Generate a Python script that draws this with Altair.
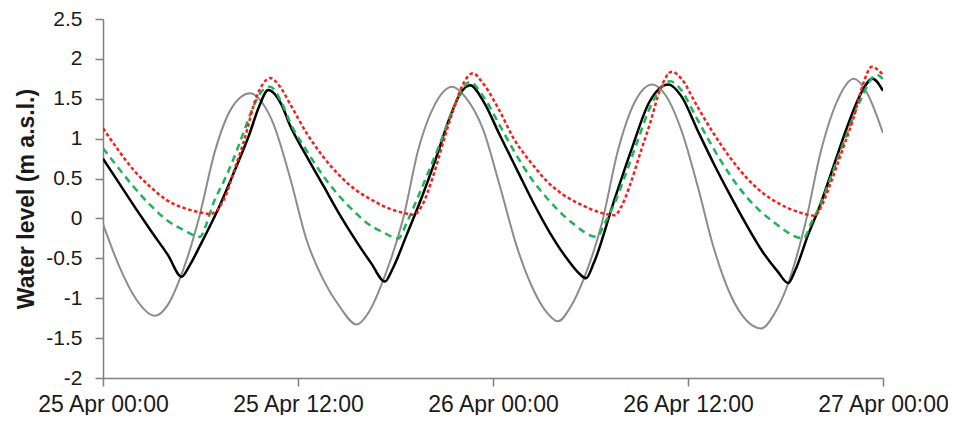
import altair as alt
import pandas as pd

# hours since 25 Apr 00:00
grey_h = [0, 1, 2, 3.2, 4, 4.8, 5.9, 6.9, 7.9, 9.05, 9.8, 10.48, 11.5, 12.53, 13.56, 14.58, 15.6,
          16.4, 17.25, 18.5, 19.4, 20.4, 21.5, 22.3, 23.4, 24.43, 25.46, 26.5, 27.2, 28.0,
          28.8, 29.56, 30.7, 31.7, 32.7, 33.8, 34.6, 35.6, 36.6, 37.6, 38.6, 39.6, 40.5,
          41.3, 42.1, 43.2, 44.2, 45.2, 46.2, 47.0, 48.0]
grey_v = [-0.07, -0.60, -1.00, -1.22, -1.08, -0.72, 0.00, 0.85, 1.38, 1.57, 1.45, 1.19, 0.52, -0.27, -0.77, -1.11, -1.33,
          -1.16, -0.77, 0.02, 0.86, 1.42, 1.65, 1.52, 1.11, 0.40, -0.35, -0.90, -1.15, -1.29,
          -1.10, -0.77, -0.06, 0.86, 1.45, 1.68, 1.55, 1.10, 0.40, -0.38, -0.95, -1.28, -1.38,
          -1.20, -0.85, -0.08, 0.86, 1.48, 1.75, 1.58, 1.07]

black_h = [0, 1, 2, 3, 4, 4.84, 5.3, 6, 7, 8, 9, 9.6, 10.17, 11.0, 11.5, 12.5, 13.56, 14.5, 15.6, 16.5, 17.35,
           17.8, 18.7, 19.7, 20.5, 21.35, 22.0, 22.6, 23.4, 24.43, 25.5, 26.5, 27.5, 28.5, 29.35, 29.72,
           30.2, 31.4, 32.5, 33.6, 34.8, 35.6, 36.6, 37.6, 38.6, 39.6, 40.6, 41.5, 42.17,
           42.6, 43.4, 44.1, 45.0, 45.8, 46.6, 47.35, 48]
black_v = [0.75, 0.44, 0.13, -0.17, -0.46, -0.73, -0.60, -0.33, 0.08, 0.55, 1.05, 1.40, 1.61, 1.42, 1.17, 0.79, 0.41, 0.07, -0.29, -0.56, -0.79,
           -0.64, -0.20, 0.31, 0.76, 1.27, 1.57, 1.67, 1.47, 1.04, 0.60, 0.19, -0.18, -0.49, -0.70, -0.75,
           -0.56, 0.19, 0.85, 1.45, 1.68, 1.53, 1.10, 0.68, 0.29, -0.08, -0.42, -0.66, -0.81,
           -0.65, -0.20, 0.15, 0.68, 1.15, 1.55, 1.75, 1.60]

green_h = [0, 1, 1.87, 3, 3.92, 5, 5.97, 6.4, 6.79, 7.4, 8.0, 8.6, 9.25, 9.8, 10.28, 11.0, 11.5, 12.5, 13.56,
           14.5, 15.6, 16.2, 17.2, 18.17, 18.7, 19.3, 20.0, 20.74, 21.6, 22.58, 23.4, 24.43, 25.25, 26.5,
           27.3, 28.9, 30.38, 30.9, 31.4, 32.1, 32.84, 33.8, 34.9, 35.5, 36.5, 37.56, 38.6, 39.6, 41.3,
           43.1, 43.6, 44.1, 44.8, 45.56, 46.6, 47.6, 48]
green_v = [0.88, 0.62, 0.40, 0.15, -0.02, -0.15, -0.23, -0.05, 0.19, 0.45, 0.73, 1.05, 1.40, 1.60, 1.65, 1.45, 1.21, 0.86, 0.53,
           0.29, 0.06, -0.05, -0.17, -0.25, -0.05, 0.23, 0.57, 0.94, 1.40, 1.71, 1.53, 1.16, 0.86, 0.46,
           0.26, -0.06, -0.23, -0.05, 0.15, 0.52, 0.94, 1.45, 1.72, 1.63, 1.27, 0.88, 0.54, 0.27, -0.05,
           -0.25, -0.05, 0.15, 0.52, 0.94, 1.48, 1.80, 1.75]

red_h = [0, 1, 1.87, 3, 3.92, 5, 6, 6.58, 7.0, 7.6, 8.1, 8.63, 9.46, 10.28, 10.9, 11.5, 12.5, 13.56, 14.5,
         15.6, 16.3, 17.66, 18.5, 19.1, 19.6, 20.3, 21.0, 21.56, 22.2, 22.75, 23.4, 24.43, 25.25, 26.5,
         27.3, 28.3, 29.35, 30.5, 31.5, 31.9, 32.4, 33.0, 33.66, 34.3, 35.0, 35.6, 36.5, 37.56, 38.6,
         39.6, 40.6, 41.66, 42.8, 43.8, 44.2, 44.7, 45.4, 46.2, 46.8, 47.3, 48]
red_v = [1.13, 0.84, 0.61, 0.38, 0.23, 0.13, 0.075, 0.055, 0.10, 0.31, 0.62, 0.94, 1.53, 1.76, 1.65, 1.44, 1.08, 0.77, 0.55,
         0.35, 0.26, 0.12, 0.07, 0.045, 0.15, 0.52, 1.00, 1.36, 1.70, 1.82, 1.69, 1.34, 1.01, 0.66,
         0.47, 0.30, 0.18, 0.08, 0.04, 0.15, 0.40, 0.78, 1.19, 1.62, 1.84, 1.75, 1.43, 1.07, 0.76,
         0.51, 0.32, 0.18, 0.08, 0.035, 0.15, 0.40, 0.80, 1.27, 1.70, 1.90, 1.80]

tick_hours = [0, 12, 24, 36, 48]
tick_labels = ["25 Apr 00:00", "25 Apr 12:00", "26 Apr 00:00", "26 Apr 12:00", "27 Apr 00:00"]
y_ticks = [-2, -1.5, -1, -0.5, 0, 0.5, 1, 1.5, 2, 2.5]

label_expr = " : ".join(
    f"datum.value == {h} ? '{l}'" for h, l in zip(tick_hours, tick_labels)
) + " : ''"

FONT = "Liberation Sans"
AXIS_GREY = "#7f7f7f"
TEXT = "#1a1a1a"

x_enc = alt.X(
    "h:Q",
    scale=alt.Scale(domain=[0, 48], nice=False, zero=False),
    axis=alt.Axis(
        values=tick_hours, labelExpr=label_expr, title=None, grid=False,
        tickSize=8, labelPadding=7, labelFontSize=23, labelFont=FONT, labelColor=TEXT,
        domainColor=AXIS_GREY, tickColor=AXIS_GREY, domainWidth=1.5, tickWidth=1.5,
        labelFlush=False, labelOverlap=False,
    ),
)
y_enc = alt.Y(
    "v:Q",
    scale=alt.Scale(domain=[-2, 2.5], nice=False, zero=False),
    axis=alt.Axis(
        values=y_ticks, labelExpr="'' + datum.value", title="Water level (m a.s.l.)",
        grid=False, tickSize=8, labelPadding=13, labelFontSize=21, labelFont=FONT,
        labelColor=TEXT, titleFont=FONT, titleFontSize=23, titleFontWeight="bold",
        titleColor=TEXT, titlePadding=7, domainColor=AXIS_GREY, tickColor=AXIS_GREY,
        domainWidth=1.5, tickWidth=1.5, labelFlush=False, labelOverlap=False,
    ),
)


def series(hs, vs, **mark):
    df = pd.DataFrame({"h": hs, "v": vs})
    return alt.Chart(df).mark_line(interpolate="monotone", clip=True, **mark).encode(x=x_enc, y=y_enc)


chart = alt.layer(
    series(grey_h, grey_v, color="#8c8c8c", strokeWidth=2),
    series(black_h, black_v, color="#000000", strokeWidth=2.5),
    series(green_h, green_v, color="#1fb35a", strokeWidth=2.5, strokeDash=[7, 5]),
    series(red_h, red_v, color="#ff1a1a", strokeWidth=2.5, strokeDash=[3.5, 2.5]),
).properties(
    width=780, height=359,
    autosize="none",
    padding={"left": 95, "top": 11, "right": 65, "bottom": 37},
).configure_view(stroke=None)

chart.save("out.html", embed_options={"renderer": "svg", "actions": False})
